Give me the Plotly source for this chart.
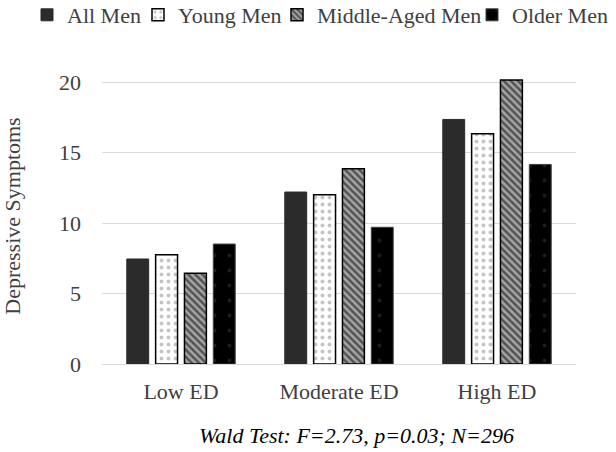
import plotly.graph_objects as go

categories = ["Low ED", "Moderate ED", "High ED"]
series_names = ["All Men", "Young Men", "Middle-Aged Men", "Older Men"]
all_men = [7.45, 12.2, 17.35]
young_men = [7.75, 12.0, 16.33]
middle_aged_men = [6.43, 13.85, 20.14]
older_men = [8.51, 9.7, 14.16]
y_ticks = [0, 5, 10, 15, 20]
note = "Wald Test: F=2.73, p=0.03; N=296"

FONT = "Liberation Serif, Times New Roman, serif"
TXT = "#404040"
W, H = 616, 452
L, R, T, B = 102, 40, 68, 88

styles = [
    dict(color="#2b2b2b", line=dict(color="#2b2b2b", width=1)),
    dict(color="white", line=dict(color="black", width=1.5),
         pattern=dict(shape=".", fgcolor="#8c8c8c", bgcolor="white", size=7, solidity=0.25)),
    dict(color="#999999", line=dict(color="black", width=1.5),
         pattern=dict(shape="\\", fgcolor="black", bgcolor="#a6a6a6", size=5, solidity=0.5)),
    dict(color="black", line=dict(color="#404040", width=1),
         pattern=dict(shape=".", fgcolor="#3a3a3a", bgcolor="black", size=15, solidity=0.05)),
]
legend_ids = ["legend2", "legend3", "legend4", "legend5"]
legend_left_x = [27, 138, 277, 472]

fig = go.Figure()
for name, vals, st, lid in zip(series_names, [all_men, young_men, middle_aged_men, older_men],
                               styles, legend_ids):
    fig.add_trace(go.Bar(name=name, x=categories, y=vals, marker=st, legend=lid))

legend_layout = {}
for lid, lx in zip(legend_ids, legend_left_x):
    legend_layout[lid] = dict(
        orientation="h", x=lx / W, xref="container", xanchor="left",
        y=1 - 15 / H, yref="container", yanchor="middle",
        font=dict(family=FONT, size=22, color=TXT),
        bgcolor="rgba(0,0,0,0)", itemwidth=30,
    )

fig.update_layout(
    width=W, height=H,
    margin=dict(l=L, r=R, t=T, b=B, autoexpand=False),
    paper_bgcolor="white", plot_bgcolor="white",
    barmode="group", bargap=0.27, bargroupgap=0.24,
    font=dict(family=FONT, color=TXT, size=22),
    showlegend=True,
    **legend_layout,
    xaxis=dict(showgrid=False, showline=False, ticks="", ticklabelstandoff=12,
               tickfont=dict(family=FONT, size=22, color=TXT)),
    yaxis=dict(range=[0, 21], tickvals=y_ticks, showgrid=True, gridcolor="#d9d9d9",
               gridwidth=1.3, zeroline=True, zerolinecolor="#d9d9d9", zerolinewidth=1.3,
               showline=False, ticks="", ticklabelstandoff=20,
               tickfont=dict(family=FONT, size=22, color=TXT),
               title=dict(text="Depressive Symptoms", standoff=32,
                          font=dict(family=FONT, size=22, color=TXT))),
    annotations=[dict(text=f"<i>{note}</i>", x=(197 - L) / (W - L - R), xref="paper",
                      xanchor="left", y=-(435 - (H - B)) / (H - T - B), yref="paper",
                      yanchor="middle", showarrow=False,
                      font=dict(family=FONT, size=22, color="black"))],
)

fig.write_html("out.html", config={"displayModeBar": False},
               post_script="document.body.style.margin='0px';")
